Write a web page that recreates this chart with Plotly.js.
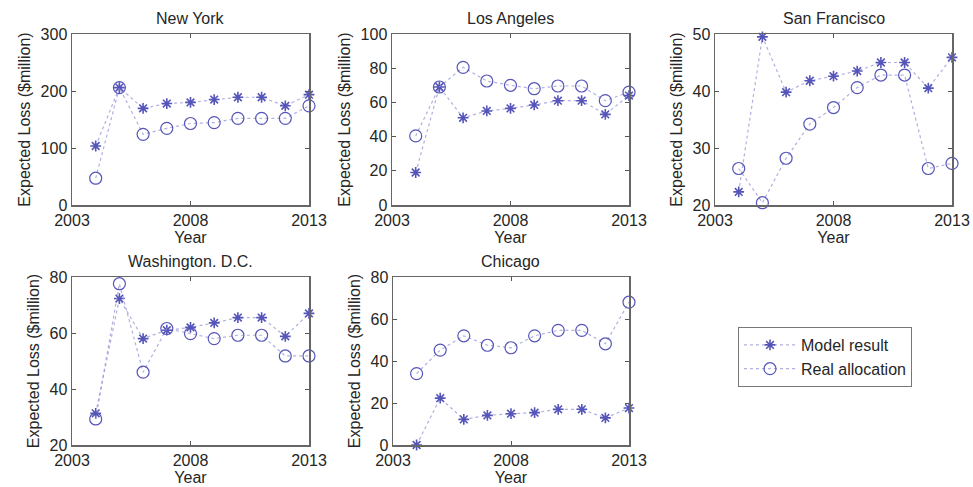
<!DOCTYPE html>
<html>
<head>
<meta charset="utf-8">
<script src="https://cdn.plot.ly/plotly-3.0.1.min.js"></script>
<style>html,body{margin:0;padding:0;background:#fff;}#chart{width:973px;height:487px;}</style>
</head>
<body>
<div id="chart"></div>
<script>
var years = [2004, 2005, 2006, 2007, 2008, 2009, 2010, 2011, 2012, 2013];
var cities = ["New York", "Los Angeles", "San Francisco", "Washington. D.C.", "Chicago"];
var nyModel = [103.5, 206, 169.6, 178, 180, 185, 189, 189, 174, 193.6];
var nyReal  = [47, 206, 124, 134.5, 143, 144.5, 152, 152, 152, 174];
var laModel = [19, 69, 51, 55, 56.5, 58.5, 61, 61, 53, 64];
var laReal  = [40.4, 69, 80.5, 72.5, 70, 68, 69.6, 69.6, 61, 66];
var sfModel = [22.3, 49.5, 39.8, 41.8, 42.6, 43.5, 45, 45, 40.5, 45.9];
var sfReal  = [26.4, 20.4, 28.2, 34.2, 37.1, 40.6, 42.8, 42.8, 26.4, 27.3];
var dcModel = [31.3, 72.3, 58, 61, 62, 63.6, 65.5, 65.5, 58.8, 67];
var dcReal  = [29.3, 77.6, 46, 61.6, 59.8, 58, 59.2, 59.2, 51.8, 51.8];
var chModel = [0, 22.3, 12.2, 14.1, 14.9, 15.4, 17, 17, 12.9, 17.6];
var chReal  = [34, 45.2, 52, 47.5, 46.3, 52, 54.6, 54.6, 48.2, 68];
var yRanges = [[0, 300], [0, 100], [20, 50], [20, 80], [0, 80]];
var yTicks = [[0, 100, 200, 300], [0, 20, 40, 60, 80, 100], [20, 30, 40, 50], [20, 40, 60, 80], [0, 20, 40, 60, 80]];
var xTicks = [2003, 2008, 2013];
var seriesNames = ["Model result", "Real allocation"];

var modelData = [nyModel, laModel, sfModel, dcModel, chModel];
var realData = [nyReal, laReal, sfReal, dcReal, chReal];

var W = 973, H = 487;
// pixel boxes [left, right, top, bottom]
var boxes = [[72, 309, 34, 205], [392, 629, 34, 205], [715, 952, 34, 205], [72, 309, 277, 445], [393, 629, 277, 445]];

var markerCol = "rgb(85,85,185)";
var lineCol = "rgba(150,150,215,0.75)";
var font = "Liberation Sans, Arial, sans-serif";
var txt = "#262626";

var traces = [];
var layout = {
  width: W, height: H,
  margin: {l: 0, r: 0, t: 0, b: 0},
  paper_bgcolor: "#fff", plot_bgcolor: "#fff",
  font: {family: font, size: 16, color: txt},
  showlegend: true,
  legend: {x: 738 / W, y: 1 - 327 / H, xanchor: "left", yanchor: "top",
           bordercolor: "#777", borderwidth: 1, bgcolor: "#fff",
           font: {family: font, size: 16, color: txt}, tracegroupgap: 0, itemwidth: 52},
  annotations: []
};

for (var i = 0; i < cities.length; i++) {
  var s = i === 0 ? "" : String(i + 1);
  var b = boxes[i];
  traces.push({
    x: years, y: modelData[i], xaxis: "x" + s, yaxis: "y" + s,
    type: "scatter", mode: "lines+markers", name: seriesNames[0],
    showlegend: i === 0, cliponaxis: false,
    line: {color: lineCol, width: 1.2, dash: "dot"},
    marker: {symbol: "asterisk-open", size: 9, color: markerCol, line: {color: markerCol, width: 1.6}}
  });
  traces.push({
    x: years, y: realData[i], xaxis: "x" + s, yaxis: "y" + s,
    type: "scatter", mode: "lines+markers", name: seriesNames[1],
    showlegend: i === 0, cliponaxis: false,
    line: {color: lineCol, width: 1.2, dash: "dot"},
    marker: {symbol: "circle-open", size: 12, color: markerCol, line: {color: markerCol, width: 1.2}}
  });
  layout["xaxis" + s] = {
    domain: [b[0] / W, b[1] / W], anchor: "y" + s,
    range: [2003, 2013], tickvals: xTicks, ticktext: xTicks.map(String),
    ticks: "inside", ticklen: 4, tickcolor: "#555", mirror: "allticks",
    showline: true, linecolor: "#666", linewidth: 1.5, showgrid: false, zeroline: false,
    tickfont: {family: font, size: 16, color: txt},
    title: {text: "Year", font: {family: font, size: 16, color: txt}, standoff: 0}
  };
  layout["yaxis" + s] = {
    domain: [1 - b[3] / H, 1 - b[2] / H], anchor: "x" + s,
    range: yRanges[i], tickvals: yTicks[i],
    ticks: "inside", ticklen: 4, tickcolor: "#555", mirror: "allticks",
    showline: true, linecolor: "#666", linewidth: 1.5, showgrid: false, zeroline: false,
    tickfont: {family: font, size: 16, color: txt},
    title: {text: "Expected Loss ($million)", font: {family: font, size: 16, color: txt}, standoff: 6}
  };
  layout.annotations.push({
    text: cities[i], xref: "paper", yref: "paper",
    x: (b[0] + b[1]) / 2 / W, y: 1 - (b[2] - 5) / H,
    xanchor: "center", yanchor: "bottom", showarrow: false,
    font: {family: font, size: 16, color: txt}
  });
}

Plotly.newPlot("chart", traces, layout, {displayModeBar: false, staticPlot: true});
</script>
</body>
</html>
